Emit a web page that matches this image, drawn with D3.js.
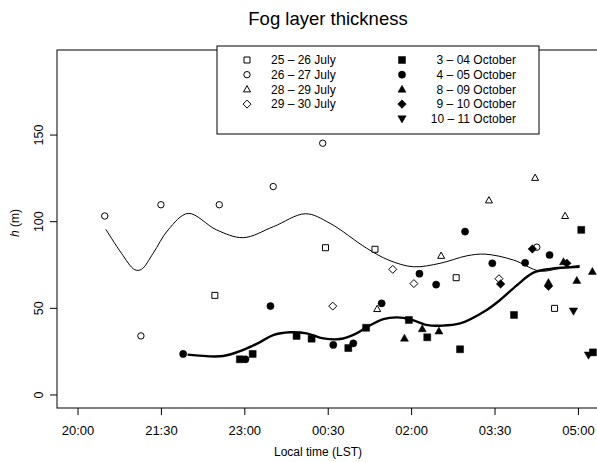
<!DOCTYPE html>
<html><head><meta charset="utf-8">
<script src="https://cdn.jsdelivr.net/npm/d3@7"></script>
<style>body{margin:0;background:#fff}svg{display:block}text{font-family:"Liberation Sans",Arial,sans-serif;fill:#000}</style>
</head><body><svg id="c" width="597" height="462"></svg>
<script>
// times in clock hours (after midnight = 24+)
const xTicks = [20, 21.5, 23, 24.5, 26, 27.5, 29];
const xTickLabels = ["20:00","21:30","23:00","00:30","02:00","03:30","05:00"];
const yTicks = [0, 50, 100, 150];

const seriesNames = ["25 – 26 July","26 – 27 July","28 – 29 July","29 – 30 July",
  "3 – 04 October","4 – 05 October","8 – 09 October","9 – 10 October","10 – 11 October"];

const jul2526 = [[22.47,57.2],[24.46,84.7],[25.35,83.8],[26.81,67.4],[28.58,49.7]];
const jul2627 = [[20.49,103],[21.14,33.8],[21.50,109.5],[22.55,109.5],[23.52,120],[24.41,145],[28.26,85]];
const jul2829 = [[25.39,49.3],[26.54,80],[27.40,112],[28.23,125],[28.77,103]];
const jul2930 = [[24.59,51],[25.67,72.2],[26.05,64],[27.58,66.8]];
const oct0304 = [[22.92,20.3],[23.15,23.4],[23.94,33.8],[24.21,32.2],[24.87,26.8],[25.19,38.5],[25.96,43],[26.29,33],[26.88,26.1],[27.85,45.9],[29.06,95],[29.27,24.3]];
const oct0405 = [[21.90,23.4],[23.02,20.3],[23.47,51],[24.60,28.6],[24.96,29.5],[25.47,52.6],[26.15,69.7],[26.45,63.4],[26.97,94],[27.46,75.7],[28.05,76],[28.49,80.5]];
const oct0809 = [[25.88,32.4],[26.20,37.8],[26.50,36.5],[28.47,64.5],[28.74,76.5],[28.98,65.7],[29.26,70.9]];
const oct0910 = [[27.61,63.8],[28.18,84],[28.47,62.5],[28.80,75.7]];
const oct1011 = [[28.92,48.2],[29.19,22.8]];

const julyCurve = [[20.51,95.3],[20.79,81.5],[21.03,72],[21.15,72.2],[21.36,81.5],[21.63,95],[21.99,104.5],[22.5,95],[22.98,90.5],[23.52,96.8],[24.1,104.3],[24.54,98.8],[25.2,84.4],[25.6,77.5],[26.04,73.7],[26.52,75.7],[27.0,80],[27.33,81],[27.84,77.6],[28.32,71.2],[28.7,73],[29.03,74.5]];
const octCurve = [[21.98,23],[22.62,22.2],[22.98,25.7],[23.3,30.5],[23.52,34.3],[23.82,35.9],[24.12,35.3],[24.42,32.4],[24.72,32],[25.0,35],[25.2,38.8],[25.5,43.5],[25.75,44.5],[26.0,43.2],[26.3,40],[26.52,39.7],[26.88,41],[27.36,48.8],[27.6,54.5],[27.9,63],[28.2,70.3],[28.5,72.5],[29.03,73.7]];

const series = [
  {data: jul2526, sym: "square", fill: false},
  {data: jul2627, sym: "circle", fill: false},
  {data: jul2829, sym: "triangle", fill: false},
  {data: jul2930, sym: "diamond", fill: false},
  {data: oct0304, sym: "square", fill: true},
  {data: oct0405, sym: "circle", fill: true},
  {data: oct0809, sym: "triangle", fill: true},
  {data: oct0910, sym: "diamond", fill: true},
  {data: oct1011, sym: "down", fill: true}
];

const svg = d3.select("#c");
svg.append("rect").attr("width",597).attr("height",462).attr("fill","#fff");
const L = 57, R = 600, T = 50, B = 408;
const x = d3.scaleLinear().domain([19.631, 29.397]).range([L, R]);
const y = d3.scaleLinear().domain([-7.8, 198.8]).range([B, T]);

function symPath(s, fill){
  if (s === "square") return fill ? "M-3.5,-3.5h7v7h-7z" : "M-3,-3h6v6h-6z";
  if (s === "triangle") return fill ? "M0,-4.2L4,2.8L-4,2.8Z" : "M0,-3.8L3.5,2.5L-3.5,2.5Z";
  if (s === "diamond") return fill ? "M0,-4.3L4.3,0L0,4.3L-4.3,0Z" : "M0,-4L4,0L0,4L-4,0Z";
  if (s === "down") return "M0,4.2L4.2,-3L-4.2,-3Z";
  return null;
}
function drawSym(g, s, fill){
  if (s === "circle") {
    g.append("circle").attr("r", fill ? 3.6 : 3.2)
      .attr("fill", fill ? "#000" : "#fff").attr("stroke","#000").attr("stroke-width", fill?0.5:1);
  } else {
    g.append("path").attr("d", symPath(s, fill))
      .attr("fill", fill ? "#000" : "#fff").attr("stroke","#000").attr("stroke-width", fill?0.5:1);
  }
}

// curves
const line = d3.line().x(d=>x(d[0])).y(d=>y(d[1])).curve(d3.curveCatmullRom.alpha(0.5));
svg.append("path").attr("d", line(julyCurve)).attr("fill","none").attr("stroke","#000").attr("stroke-width",1);
svg.append("path").attr("d", line(octCurve)).attr("fill","none").attr("stroke","#000").attr("stroke-width",2.4);

// points
series.forEach(s=>{
  s.data.forEach(d=>{
    const g = svg.append("g").attr("transform",`translate(${x(d[0])},${y(d[1])})`);
    drawSym(g, s.sym, s.fill);
  });
});

// frame
svg.append("rect").attr("x",L).attr("y",T).attr("width",R-L).attr("height",B-T)
  .attr("fill","none").attr("stroke","#000").attr("stroke-width",1);

// x axis
const xa = svg.append("g").attr("transform",`translate(0,${B})`)
  .call(d3.axisBottom(x).tickValues(xTicks).tickSize(7).tickPadding(11).tickFormat((d,i)=>xTickLabels[i]));
xa.select(".domain").remove();
xa.selectAll("text").attr("font-size",13).attr("font-family","Liberation Sans, Arial");
// y axis
const ya = svg.append("g").attr("transform",`translate(${L},0)`)
  .call(d3.axisLeft(y).tickValues(yTicks).tickSize(7).tickPadding(5));
ya.select(".domain").remove();
ya.selectAll(".tick text").each(function(){
  d3.select(this).attr("x",null).attr("dy","0.35em").attr("font-size",12.5)
    .attr("font-family","Liberation Sans, Arial").attr("text-anchor","middle")
    .attr("transform","translate(-18,0) rotate(-90)");
});

// titles
svg.append("text").attr("x",328).attr("y",25).attr("text-anchor","middle").attr("font-size",18.5).text("Fog layer thickness");
svg.append("text").attr("x",318).attr("y",456).attr("text-anchor","middle").attr("font-size",12).text("Local time (LST)");
const yl = svg.append("text").attr("transform","translate(19,223) rotate(-90)").attr("text-anchor","middle").attr("font-size",12);
yl.append("tspan").attr("font-style","italic").text("h");
yl.append("tspan").text(" (m)");

// legend
const lg = svg.append("g");
lg.append("rect").attr("x",217).attr("y",46).attr("width",322).attr("height",88)
  .attr("fill","#fff").attr("stroke","#000").attr("stroke-width",1);
series.forEach((s,i)=>{
  const col = i < 4 ? 0 : 1;
  const row = i < 4 ? i : i-4;
  const yy = 60 + row*14.7;
  const sx = col===0 ? 247 : 402;
  const g = lg.append("g").attr("transform",`translate(${sx},${yy})`);
  drawSym(g, s.sym, s.fill);
  lg.append("text").attr("x", col===0 ? 271 : 516).attr("y", yy).attr("dy","0.35em")
    .attr("text-anchor", col===0 ? "start" : "end").attr("font-size",12).text(seriesNames[i]);
});
</script></body></html>
